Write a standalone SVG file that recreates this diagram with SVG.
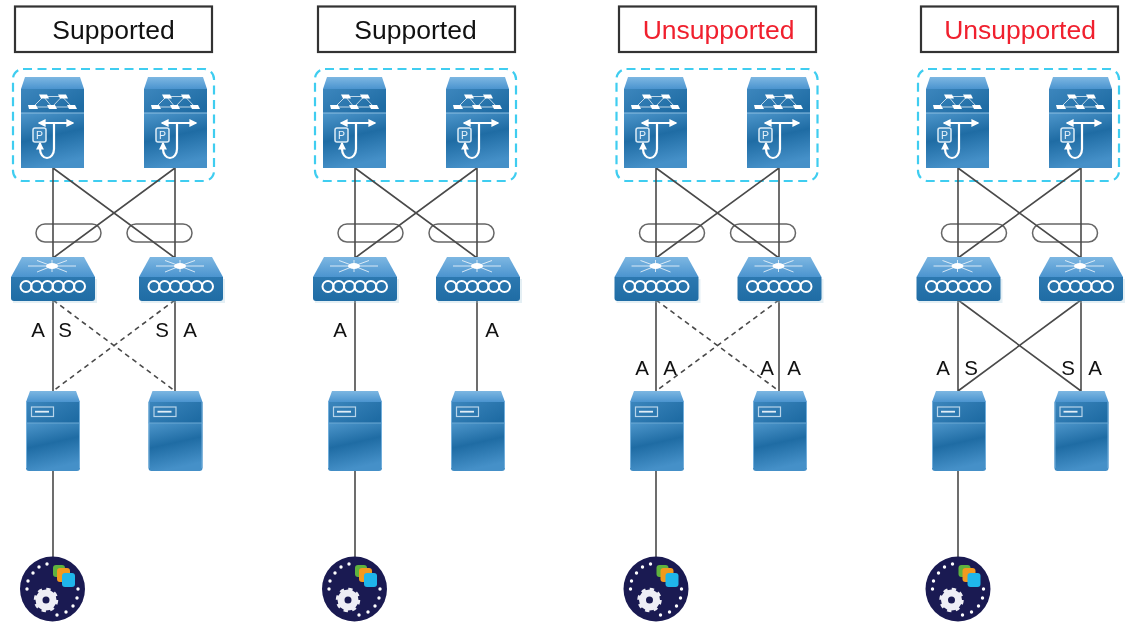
<svg xmlns="http://www.w3.org/2000/svg" width="1127" height="622" viewBox="0 0 1127 622">
<style>
svg>g{filter:url(#soft)}
text{font-family:"Liberation Sans",Arial,sans-serif;fill:#111}
.title{font-size:26.5px;text-anchor:middle}
.red{fill:#f0202e}
.lbl{font-size:20.5px;text-anchor:middle}
.tb{fill:#fff;stroke:#333;stroke-width:2.2}
.grp{fill:none;stroke:#3fcdf0;stroke-width:2.2;stroke-dasharray:9 5.5}
.pc{fill:#fff;stroke:#666;stroke-width:1.5}
.c{stroke:#4a4a4a;stroke-width:1.6;fill:none}
.d{stroke-dasharray:5 4}
.w{stroke:#fff;fill:none}
.wf{fill:#fff}
</style>
<defs>
<filter id="soft" x="-5%" y="-5%" width="110%" height="110%" color-interpolation-filters="sRGB"><feGaussianBlur stdDeviation="0.45"/></filter>
<linearGradient id="top" x1="0" y1="0" x2="0" y2="1"><stop offset="0" stop-color="#7db7e2"/><stop offset="1" stop-color="#4b94cf"/></linearGradient>
<linearGradient id="body" x1="0" y1="0" x2="0.25" y2="1"><stop offset="0" stop-color="#4d96cb"/><stop offset=".5" stop-color="#1f6ca4"/><stop offset="1" stop-color="#4590c8"/></linearGradient>
<linearGradient id="body2" x1="0" y1="0" x2="1" y2="0.7"><stop offset="0" stop-color="#3c86bd"/><stop offset="1" stop-color="#1f6ca4"/></linearGradient>
<linearGradient id="swf" x1="0" y1="0" x2="0" y2="1"><stop offset="0" stop-color="#2c78b0"/><stop offset="1" stop-color="#1f6ca4"/></linearGradient>
<marker id="ah" viewBox="0 0 6 6" refX="5" refY="3" markerWidth="3.6" markerHeight="3.6" orient="auto-start-reverse"><path d="M0 0L6 3L0 6z" fill="#fff"/></marker>
<g id="dev">
<path d="M4 0H59L63 12H0z" fill="url(#top)"/>
<rect y="12" width="63" height="24" fill="url(#body2)"/>
<rect y="36" width="63" height="55" fill="url(#body)"/>
<path d="M0 36H63" stroke="#8dbfe2" stroke-width="1"/>
<path class="w" stroke-width="1" d="M12 30L22.5 19.5L31 30L41 19.5L51 30M22.5 19.5H41M12 30H51" opacity=".7"/>
<path class="wf" d="M18 17.5h8l2 4h-8zM37 17.5h8l2 4h-8zM7 28h8l2 4H8zM26 28h8l2 4h-8zM46 28h8l2 4h-8z"/>
<path class="w" stroke-width="2.2" d="M18 46H52" marker-start="url(#ah)" marker-end="url(#ah)"/>
<path class="w" stroke-width="2.2" d="M33 46V72A7 9 0 0 1 19 72V66" marker-end="url(#ah)"/>
<rect x="12" y="51" width="13" height="14" rx="2" fill="#3b85bb" stroke="#dcebf6" stroke-width="1.5"/>
<text x="18.5" y="61.5" style="font-size:10.5px;text-anchor:middle;fill:#e8f2fa">P</text>
</g>
<g id="sw">
<path d="M2 22H86V46H2z" fill="#9fc4d6" opacity=".28"/>
<path d="M11 0H73L84 20H0z" fill="url(#top)"/>
<path d="M0 20H84V41Q84 44 81 44H3Q0 44 0 41z" fill="url(#swf)"/>
<path class="w" stroke-width="1" opacity=".75" d="M17 9H65M41 9L26 3.5M41 9L56 3.5M41 9L26 15M41 9L56 15M41 3V15"/>
<ellipse cx="41" cy="9" rx="6" ry="3" class="wf"/>
<g class="w" stroke-width="2"><ellipse cx="15" cy="29.5" rx="5.5" ry="5.5"/><ellipse cx="25.7" cy="29.5" rx="5.5" ry="5.5"/><ellipse cx="36.4" cy="29.5" rx="5.5" ry="5.5"/><ellipse cx="47.1" cy="29.5" rx="5.5" ry="5.5"/><ellipse cx="57.8" cy="29.5" rx="5.5" ry="5.5"/><ellipse cx="68.5" cy="29.5" rx="5.5" ry="5.5"/></g>
</g>
<g id="srv">
<path d="M4 0H50L54 11H0z" fill="url(#top)"/>
<rect y="11" width="54" height="21" fill="url(#body2)"/>
<path d="M0 32H54V77Q54 80 51 80H3Q0 80 0 77z" fill="url(#body)"/>
<path d="M0 32H54" stroke="#6da9d4" stroke-width="1"/>
<path d="M0.5 11V77M53.5 11V77" stroke="#72aedb" stroke-width="1"/>
<rect x="5.5" y="16" width="22" height="9.5" fill="none" stroke="#b7d4ea" stroke-width="1.2"/>
<path d="M9 20.7H23" stroke="#e2eef7" stroke-width="1.8"/>
</g>
<g id="app">
<circle r="32.5" fill="#1a1a52"/>
<g class="wf"><circle cx="-5.5" cy="-25" r="1.7"/><circle cx="-13.5" cy="-22" r="1.7"/><circle cx="-19.5" cy="-16" r="1.7"/><circle cx="-24.5" cy="-8" r="1.7"/><circle cx="-25.5" cy="0" r="1.7"/><circle cx="25.5" cy="0" r="1.7"/><circle cx="24.5" cy="9" r="1.7"/><circle cx="20.5" cy="17" r="1.7"/><circle cx="13.5" cy="23" r="1.7"/><circle cx="4.5" cy="26" r="1.7"/></g>
<rect x="0.5" y="-24" width="12" height="12" rx="3" fill="#5fb33e"/>
<rect x="4.5" y="-21" width="13" height="14" rx="3" fill="#f39a1e"/>
<rect x="9.5" y="-16" width="13" height="14" rx="3" fill="#1fb6ea"/>
<circle cx="-6.5" cy="11" r="7" fill="none" stroke="#eeeef5" stroke-width="7"/>
<circle cx="-6.5" cy="11" r="10.5" fill="none" stroke="#eeeef5" stroke-width="3.5" stroke-dasharray="4.12 4.12"/>
</g>
</defs>

<g id="titles">
<g id="title-1"><rect class="tb" x="15" y="6.5" width="197" height="45.5"/><text class="title" x="113.5" y="39">Supported</text></g>
<g id="title-2"><rect class="tb" x="318" y="6.5" width="197" height="45.5"/><text class="title" x="415.5" y="39">Supported</text></g>
<g id="title-3"><rect class="tb" x="619" y="6.5" width="197" height="45.5"/><text class="title red" x="718.5" y="39">Unsupported</text></g>
<g id="title-4"><rect class="tb" x="921" y="6.5" width="197" height="45.5"/><text class="title red" x="1020" y="39">Unsupported</text></g>
</g>

<g id="groups">
<rect id="group-1" class="grp" x="13" y="69" width="201" height="112" rx="10"/>
<rect id="group-2" class="grp" x="315" y="69" width="201" height="112" rx="10"/>
<rect id="group-3" class="grp" x="616.5" y="69" width="201" height="112" rx="10"/>
<rect id="group-4" class="grp" x="918" y="69" width="201" height="112" rx="10"/>
</g>

<g id="port-channels">
<rect class="pc" x="36" y="224" width="65" height="18" rx="9"/><rect class="pc" x="127" y="224" width="65" height="18" rx="9"/>
<rect class="pc" x="338" y="224" width="65" height="18" rx="9"/><rect class="pc" x="429" y="224" width="65" height="18" rx="9"/>
<rect class="pc" x="639.5" y="224" width="65" height="18" rx="9"/><rect class="pc" x="730.5" y="224" width="65" height="18" rx="9"/>
<rect class="pc" x="941.5" y="224" width="65" height="18" rx="9"/><rect class="pc" x="1032.5" y="224" width="65" height="18" rx="9"/>
</g>

<g id="connectors">
<path class="c" d="M53 168V258M175 168V258M53 168L175 258M175 168L53 258"/>
<path class="c" d="M355 168V258M477 168V258M355 168L477 258M477 168L355 258"/>
<path class="c" d="M656 168V258M779 168V258M656 168L779 258M779 168L656 258"/>
<path class="c" d="M958 168V258M1081 168V258M958 168L1081 258M1081 168L958 258"/>
<path class="c" d="M53 300V391M175 300V391"/>
<path class="c d" d="M53 300L175 391M175 300L53 391"/>
<path class="c" d="M355 300V391M477 300V391"/>
<path class="c" d="M656 300V391M779 300V391"/>
<path class="c d" d="M656 300L779 391M779 300L656 391"/>
<path class="c" d="M958 300V391M1081 300V391M958 300L1081 391M1081 300L958 391"/>
<path class="c" d="M53 471V557M355 471V557M656 471V557M958 471V557"/>
</g>

<g id="c1-spine-a"><use href="#dev" x="21" y="77"/></g>
<g id="c1-spine-b"><use href="#dev" x="144" y="77"/></g>
<g id="c2-spine-a"><use href="#dev" x="323" y="77"/></g>
<g id="c2-spine-b"><use href="#dev" x="446" y="77"/></g>
<g id="c3-spine-a"><use href="#dev" x="624" y="77"/></g>
<g id="c3-spine-b"><use href="#dev" x="747" y="77"/></g>
<g id="c4-spine-a"><use href="#dev" x="926" y="77"/></g>
<g id="c4-spine-b"><use href="#dev" x="1049" y="77"/></g>

<g id="c1-leaf-a"><use href="#sw" x="11" y="257"/></g>
<g id="c1-leaf-b"><use href="#sw" x="139" y="257"/></g>
<g id="c2-leaf-a"><use href="#sw" x="313" y="257"/></g>
<g id="c2-leaf-b"><use href="#sw" x="436" y="257"/></g>
<g id="c3-leaf-a"><use href="#sw" x="614.5" y="257"/></g>
<g id="c3-leaf-b"><use href="#sw" x="737.5" y="257"/></g>
<g id="c4-leaf-a"><use href="#sw" x="916.5" y="257"/></g>
<g id="c4-leaf-b"><use href="#sw" x="1039" y="257"/></g>

<g id="c1-server-a"><use href="#srv" x="26" y="391"/></g>
<g id="c1-server-b"><use href="#srv" x="148.5" y="391"/></g>
<g id="c2-server-a"><use href="#srv" x="328" y="391"/></g>
<g id="c2-server-b"><use href="#srv" x="451" y="391"/></g>
<g id="c3-server-a"><use href="#srv" x="630" y="391"/></g>
<g id="c3-server-b"><use href="#srv" x="753" y="391"/></g>
<g id="c4-server-a"><use href="#srv" x="932" y="391"/></g>
<g id="c4-server-b"><use href="#srv" x="1054.5" y="391"/></g>

<g id="c1-app"><use href="#app" x="52.5" y="589"/></g>
<g id="c2-app"><use href="#app" x="354.5" y="589"/></g>
<g id="c3-app"><use href="#app" x="656" y="589"/></g>
<g id="c4-app"><use href="#app" x="958" y="589"/></g>

<g id="labels">
<text class="lbl" x="38" y="336.5">A</text><text class="lbl" x="65" y="336.5">S</text><text class="lbl" x="162" y="336.5">S</text><text class="lbl" x="190" y="336.5">A</text>
<text class="lbl" x="340" y="336.5">A</text><text class="lbl" x="492" y="336.5">A</text>
<text class="lbl" x="642" y="375">A</text><text class="lbl" x="670" y="375">A</text><text class="lbl" x="767" y="375">A</text><text class="lbl" x="794" y="375">A</text>
<text class="lbl" x="943" y="375">A</text><text class="lbl" x="971" y="375">S</text><text class="lbl" x="1068" y="375">S</text><text class="lbl" x="1095" y="375">A</text>
</g>

<g id="edge-marks"><path d="M1125 571v4M1125 589v4M1125 606v4" stroke="#bbb" stroke-width="1.5"/></g>
</svg>
